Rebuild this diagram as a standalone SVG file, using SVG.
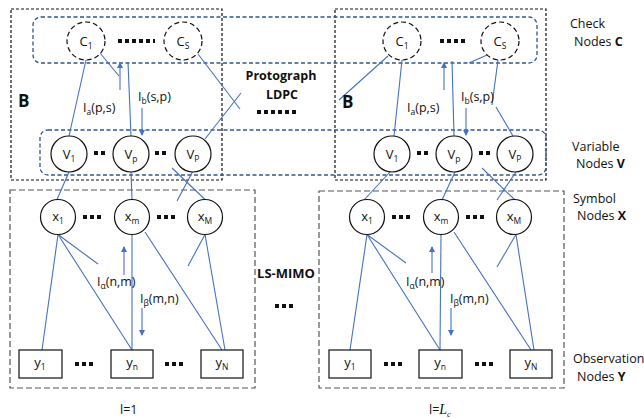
<svg xmlns="http://www.w3.org/2000/svg" width="644" height="418" viewBox="0 0 644 418">
<style>
.t{font-family:"Open Sans","Noto Sans","Liberation Sans",sans-serif;font-size:12.5px;fill:#111}
.n{font-family:"Open Sans","Noto Sans","Liberation Sans",sans-serif;font-size:13px;fill:#111;text-anchor:middle}
.b{font-family:"Open Sans","Noto Sans","Liberation Sans",sans-serif;font-weight:bold;fill:#111}
.s{font-size:8.5px}
.e line{stroke:#4472C4;stroke-width:1.1}
.ar{stroke:#4472C4;stroke-width:1.3;marker-end:url(#ah)}
.cn{fill:#fff;stroke:#111;stroke-width:1.2;stroke-dasharray:5 3}
.vn{fill:#fff;stroke:#111;stroke-width:1.2}
.yn{fill:#fff;stroke:#111;stroke-width:1.2}
.bx{fill:none;stroke:#111;stroke-width:1.2;stroke-dasharray:3 2}
.gx{fill:none;stroke:#555;stroke-width:1.2;stroke-dasharray:6 3}
.rr{fill:none;stroke:#2F5597;stroke-width:1.3;stroke-dasharray:4 2.5}
.d{stroke:#111;stroke-width:4;stroke-dasharray:4 3}
</style>
<defs>
<marker id="ah" markerWidth="6" markerHeight="6" refX="5" refY="3" orient="auto" markerUnits="userSpaceOnUse">
<path d="M0,0 L6,3 L0,6 z" fill="#4472C4"/>
</marker>
</defs>

<g id="containers">
<rect class="bx" x="11" y="9" width="211" height="171"/>
<rect class="bx" x="335" y="9" width="211" height="171"/>
<rect class="rr" x="33" y="17" width="504" height="46" rx="8"/>
<rect class="rr" x="40" y="130" width="506" height="45" rx="8"/>
<rect class="gx" x="10" y="190" width="245" height="198"/>
<rect class="gx" x="319" y="191" width="245" height="197"/>
</g>

<g id="connectors" class="e">
<line x1="86" y1="60" x2="69" y2="136"/>
<line x1="100" y1="53" x2="119" y2="76"/>
<line x1="128" y1="62" x2="131" y2="136"/>
<line x1="198" y1="54" x2="240" y2="109"/>
<line x1="205" y1="139" x2="241" y2="93"/>
<line x1="69" y1="172" x2="57" y2="199.5"/>
<line x1="131" y1="172" x2="132" y2="199.5"/>
<line x1="193" y1="171" x2="177" y2="201"/>
<line x1="172" y1="168" x2="205" y2="199.5"/>
<line x1="58" y1="234.5" x2="42" y2="350"/>
<line x1="58" y1="234.5" x2="98" y2="264"/>
<line x1="58" y1="234.5" x2="132" y2="350"/>
<line x1="132" y1="234.5" x2="132" y2="350"/>
<line x1="145" y1="232" x2="222" y2="350"/>
<line x1="205" y1="234.5" x2="188" y2="266"/>
<line x1="205" y1="234.5" x2="225" y2="350"/>
<line x1="388" y1="56" x2="339" y2="100"/>
<line x1="402" y1="60" x2="394" y2="136"/>
<line x1="452" y1="61" x2="454" y2="136"/>
<line x1="487" y1="55" x2="469" y2="63"/>
<line x1="498" y1="60" x2="492" y2="105"/>
<line x1="496" y1="107" x2="513" y2="136"/>
<line x1="390" y1="172" x2="364" y2="200"/>
<line x1="455" y1="172" x2="442" y2="200"/>
<line x1="482" y1="168" x2="515" y2="200"/>
<line x1="516" y1="172" x2="497" y2="200"/>
<line x1="367" y1="234.5" x2="350" y2="350"/>
<line x1="367" y1="234.5" x2="406" y2="263"/>
<line x1="367" y1="234.5" x2="440" y2="350"/>
<line x1="441" y1="234.5" x2="440" y2="350"/>
<line x1="454" y1="232" x2="531" y2="350"/>
<line x1="516" y1="234.5" x2="497" y2="267"/>
<line x1="516" y1="234.5" x2="534" y2="350"/>
<line class="ar" x1="120" y1="90" x2="120" y2="63"/>
<line class="ar" x1="142" y1="108" x2="142" y2="135"/>
<line class="ar" x1="124" y1="275" x2="124" y2="247"/>
<line class="ar" x1="142" y1="308" x2="142" y2="335"/>
<line class="ar" x1="444" y1="90" x2="444" y2="63"/>
<line class="ar" x1="466" y1="108" x2="466" y2="135"/>
<line class="ar" x1="432" y1="273" x2="432" y2="247"/>
<line class="ar" x1="451" y1="308" x2="451" y2="335"/>
</g>

<g id="dots">
<line class="d" x1="118" y1="41" x2="155" y2="41" stroke-dasharray="4 4.3"/>
<line class="d" x1="440" y1="41" x2="467" y2="41"/>
<line class="d" x1="94" y1="153" x2="105" y2="153"/>
<line class="d" x1="155" y1="153" x2="166" y2="153"/>
<line class="d" x1="417" y1="153" x2="428" y2="153"/>
<line class="d" x1="479" y1="153" x2="490" y2="153"/>
<line class="d" x1="83" y1="217" x2="102" y2="217"/>
<line class="d" x1="157" y1="217" x2="176" y2="217"/>
<line class="d" x1="392" y1="217" x2="411" y2="217"/>
<line class="d" x1="466" y1="217" x2="485" y2="217"/>
<line class="d" x1="75" y1="364" x2="94" y2="364"/>
<line class="d" x1="165" y1="364" x2="184" y2="364"/>
<line class="d" x1="384" y1="364" x2="403" y2="364"/>
<line class="d" x1="475" y1="364" x2="494" y2="364"/>
<line class="d" x1="257" y1="112" x2="298" y2="112"/>
<line class="d" x1="275" y1="306" x2="294" y2="306"/>
</g>

<g id="C1_L"><circle class="cn" cx="86" cy="41" r="19"/><text class="n" x="86" y="46">C<tspan class="s" dy="3">1</tspan></text></g>
<g id="CS_L"><circle class="cn" cx="183" cy="41" r="19"/><text class="n" x="183" y="46">C<tspan class="s" dy="3">S</tspan></text></g>
<g id="C1_R"><circle class="cn" cx="402" cy="41" r="19"/><text class="n" x="402" y="46">C<tspan class="s" dy="3">1</tspan></text></g>
<g id="CS_R"><circle class="cn" cx="500" cy="41" r="19"/><text class="n" x="500" y="46">C<tspan class="s" dy="3">S</tspan></text></g>

<g id="V1_L"><circle class="vn" cx="69" cy="154" r="18"/><text class="n" x="69" y="159">V<tspan class="s" dy="3">1</tspan></text></g>
<g id="Vp_L"><circle class="vn" cx="131" cy="154" r="18"/><text class="n" x="131" y="159">V<tspan class="s" dy="3">p</tspan></text></g>
<g id="VP_L"><circle class="vn" cx="193" cy="154" r="18"/><text class="n" x="193" y="159">V<tspan class="s" dy="3">P</tspan></text></g>
<g id="V1_R"><circle class="vn" cx="392" cy="154" r="18"/><text class="n" x="392" y="159">V<tspan class="s" dy="3">1</tspan></text></g>
<g id="Vp_R"><circle class="vn" cx="454" cy="154" r="18"/><text class="n" x="454" y="159">V<tspan class="s" dy="3">p</tspan></text></g>
<g id="VP_R"><circle class="vn" cx="515" cy="154" r="18"/><text class="n" x="515" y="159">V<tspan class="s" dy="3">P</tspan></text></g>

<g id="x1_L"><circle class="vn" cx="58" cy="217" r="17.5"/><text class="n" x="58" y="221">x<tspan class="s" dy="3">1</tspan></text></g>
<g id="xm_L"><circle class="vn" cx="132" cy="217" r="17.5"/><text class="n" x="132" y="221">x<tspan class="s" dy="3">m</tspan></text></g>
<g id="xM_L"><circle class="vn" cx="205" cy="217" r="17.5"/><text class="n" x="205" y="221">x<tspan class="s" dy="3">M</tspan></text></g>
<g id="x1_R"><circle class="vn" cx="367" cy="217" r="17.5"/><text class="n" x="367" y="221">x<tspan class="s" dy="3">1</tspan></text></g>
<g id="xm_R"><circle class="vn" cx="441" cy="217" r="17.5"/><text class="n" x="441" y="221">x<tspan class="s" dy="3">m</tspan></text></g>
<g id="xM_R"><circle class="vn" cx="514" cy="217" r="17.5"/><text class="n" x="514" y="221">x<tspan class="s" dy="3">M</tspan></text></g>

<g id="y1_L"><rect class="yn" x="19" y="350" width="43" height="28"/><text class="n" x="40" y="367">y<tspan class="s" dy="3">1</tspan></text></g>
<g id="yn_L"><rect class="yn" x="111" y="350" width="42" height="28"/><text class="n" x="132" y="367">y<tspan class="s" dy="3">n</tspan></text></g>
<g id="yN_L"><rect class="yn" x="201" y="350" width="42" height="28"/><text class="n" x="222" y="367">y<tspan class="s" dy="3">N</tspan></text></g>
<g id="y1_R"><rect class="yn" x="329" y="350" width="42" height="28"/><text class="n" x="350" y="367">y<tspan class="s" dy="3">1</tspan></text></g>
<g id="yn_R"><rect class="yn" x="419" y="350" width="43" height="28"/><text class="n" x="440" y="367">y<tspan class="s" dy="3">n</tspan></text></g>
<g id="yN_R"><rect class="yn" x="510" y="350" width="42" height="28"/><text class="n" x="531" y="367">y<tspan class="s" dy="3">N</tspan></text></g>

<g id="labels">
<text class="b" x="18" y="107" font-size="17">B</text>
<text class="b" x="342" y="108" font-size="17">B</text>
<text class="t" x="83" y="112">I<tspan class="s" dy="3">a</tspan><tspan dy="-3">(p,s)</tspan></text>
<text class="t" x="138" y="101">I<tspan class="s" dy="3">b</tspan><tspan dy="-3">(s,p)</tspan></text>
<text class="t" x="407" y="112">I<tspan class="s" dy="3">a</tspan><tspan dy="-3">(p,s)</tspan></text>
<text class="t" x="461" y="101">I<tspan class="s" dy="3">b</tspan><tspan dy="-3">(s,p)</tspan></text>
<text class="t" x="97" y="286">I<tspan class="s" dy="3">α</tspan><tspan dy="-3">(n,m)</tspan></text>
<text class="t" x="140" y="303">I<tspan class="s" dy="3">β</tspan><tspan dy="-3">(m,n)</tspan></text>
<text class="t" x="406" y="286">I<tspan class="s" dy="3">α</tspan><tspan dy="-3">(n,m)</tspan></text>
<text class="t" x="450" y="303">I<tspan class="s" dy="3">β</tspan><tspan dy="-3">(m,n)</tspan></text>
<text class="b" x="281" y="80" font-size="12.5" text-anchor="middle">Protograph</text>
<text class="b" x="282" y="99" font-size="12.5" text-anchor="middle">LDPC</text>
<text class="b" x="286" y="278" font-size="13" text-anchor="middle">LS-MIMO</text>
<text class="t" x="570" y="28">Check</text>
<text class="t" x="574" y="46">Nodes <tspan font-weight="bold">C</tspan></text>
<text class="t" x="572" y="151">Variable</text>
<text class="t" x="576" y="168">Nodes <tspan font-weight="bold">V</tspan></text>
<text class="t" x="573" y="203">Symbol</text>
<text class="t" x="577" y="220">Nodes <tspan font-weight="bold">X</tspan></text>
<text class="t" x="573" y="363">Observation</text>
<text class="t" x="577" y="381">Nodes <tspan font-weight="bold">Y</tspan></text>
<text class="t" x="120" y="414">l=1</text>
<text class="t" x="429" y="414">l=<tspan font-family="Liberation Serif, serif" font-style="italic" font-size="14">L</tspan><tspan font-family="Liberation Serif, serif" font-style="italic" class="s" dy="3">c</tspan></text>
</g>
</svg>
